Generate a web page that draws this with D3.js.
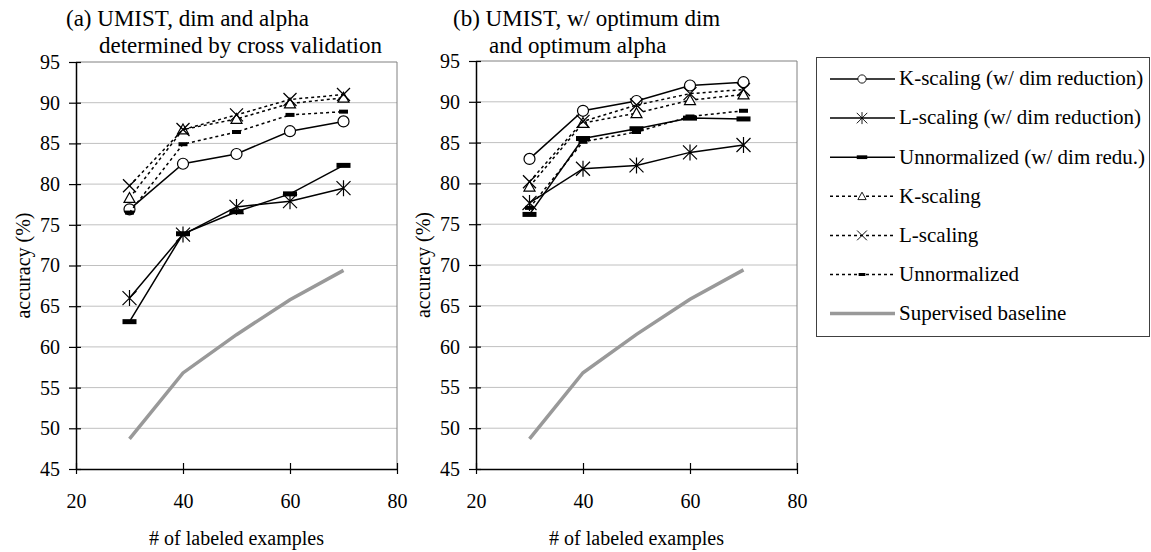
<!DOCTYPE html>
<html>
<head>
<meta charset="utf-8">
<script src="https://cdn.jsdelivr.net/npm/d3@7"></script>
<style>
  body { margin: 0; background: #fff; }
  svg text { font-family: "Liberation Serif", "Times New Roman", serif; fill: #000; }
</style>
</head>
<body>
<div id="chart"></div>
<script>
// ---------------- data ----------------
const xValues = [30, 40, 50, 60, 70];
const xTicks = [20, 40, 60, 80];
const yTicks = [45, 50, 55, 60, 65, 70, 75, 80, 85, 90, 95];

const seriesNames = [
  "K-scaling (w/ dim reduction)",
  "L-scaling (w/ dim reduction)",
  "Unnormalized (w/ dim redu.)",
  "K-scaling",
  "L-scaling",
  "Unnormalized",
  "Supervised baseline"
];

// (a) cross validation
const kDimA = [76.9, 82.5, 83.7, 86.5, 87.7];
const lDimA = [66.0, 73.8, 77.2, 77.9, 79.5];
const uDimA = [63.1, 73.9, 76.6, 78.8, 82.3];
const kScaleA = [78.3, 86.7, 88.0, 89.9, 90.6];
const lScaleA = [79.8, 86.7, 88.5, 90.4, 91.0];
const unnormA = [76.5, 84.9, 86.4, 88.5, 88.9];
const baseA = [48.7, 56.8, 61.5, 65.8, 69.4];

// (b) optimum dim / alpha
const kDimB = [83.0, 88.9, 90.1, 92.0, 92.4];
const lDimB = [77.6, 81.8, 82.2, 83.8, 84.7];
const uDimB = [76.2, 85.5, 86.7, 88.0, 87.9];
const kScaleB = [79.6, 87.4, 88.6, 90.2, 90.9];
const lScaleB = [80.2, 87.6, 89.6, 91.0, 91.5];
const unnormB = [77.0, 85.1, 86.3, 88.2, 88.9];
const baseB = [48.7, 56.8, 61.5, 65.8, 69.4];

const titleA = ["(a) UMIST, dim and alpha", "determined by cross validation"];
const titleB = ["(b) UMIST, w/ optimum dim", "and optimum alpha"];
const xLabel = "# of labeled examples";
const yLabel = "accuracy (%)";

// ---------------- styles ----------------
const styles = [
  { dash: null, marker: "circle" },
  { dash: null, marker: "asterisk" },
  { dash: null, marker: "bar" },
  { dash: "3,3", marker: "triangle" },
  { dash: "3,3", marker: "x" },
  { dash: "3,3", marker: "smallbar" },
  { dash: null, marker: null, gray: true }
];

const w = 1151;
const h = 552;

const svg = d3.select("#chart")
  .append("svg")
  .attr("width", w)
  .attr("height", h);

function drawMarker(g, type, cx, cy) {
  if (type === "circle") {
    g.append("circle").attr("cx", cx).attr("cy", cy).attr("r", 5.5)
      .attr("fill", "#fff").attr("stroke", "#000").attr("stroke-width", 1.2);
  } else if (type === "asterisk") {
    const s = 7;
    g.append("path")
      .attr("d", `M${cx-s},${cy-s}L${cx+s},${cy+s}M${cx-s},${cy+s}L${cx+s},${cy-s}M${cx},${cy-s-1}L${cx},${cy+s+1}`)
      .attr("stroke", "#000").attr("stroke-width", 1.2).attr("fill", "none");
  } else if (type === "x") {
    const s = 6.5;
    g.append("path")
      .attr("d", `M${cx-s},${cy-s}L${cx+s},${cy+s}M${cx-s},${cy+s}L${cx+s},${cy-s}`)
      .attr("stroke", "#000").attr("stroke-width", 1.3).attr("fill", "none");
  } else if (type === "triangle") {
    const s = 5.5;
    g.append("path")
      .attr("d", `M${cx},${cy-s}L${cx+s},${cy+s*0.8}L${cx-s},${cy+s*0.8}Z`)
      .attr("fill", "#fff").attr("stroke", "#000").attr("stroke-width", 1.2);
  } else if (type === "bar") {
    g.append("rect").attr("x", cx - 7).attr("y", cy - 2.5).attr("width", 14).attr("height", 5)
      .attr("fill", "#000");
  } else if (type === "smallbar") {
    g.append("rect").attr("x", cx - 4.5).attr("y", cy - 2).attr("width", 9).attr("height", 4)
      .attr("fill", "#000");
  }
}

function drawPanel(left, top, seriesList, title, titleX, indent) {
  const right = left + 321;
  const bottom = 469;

  const xScale = d3.scaleLinear().domain([20, 80]).range([left, right]);
  const yScale = d3.scaleLinear().domain([45, 95]).range([bottom, top]);

  const g = svg.append("g");

  // gridlines
  g.selectAll(".grid")
    .data(yTicks.filter(d => d > 45 && d < 95))
    .enter()
    .append("line")
    .attr("x1", left).attr("x2", right)
    .attr("y1", d => yScale(d)).attr("y2", d => yScale(d))
    .attr("stroke", "#c0c0c0").attr("stroke-width", 1);

  // plot border top / right
  g.append("path")
    .attr("d", `M${left},${top}H${right}V${bottom}`)
    .attr("fill", "none").attr("stroke", "#808080").attr("stroke-width", 1);

  const yAxis = d3.axisLeft(yScale).tickValues(yTicks).tickSize(7).tickSizeOuter(0).tickPadding(9);
  const xAxis = d3.axisBottom(xScale).tickValues(xTicks).tickSize(5).tickSizeOuter(0);

  const ya = g.append("g").attr("transform", `translate(${left},0)`).call(yAxis);
  ya.selectAll(".tick line").attr("x1", 5).attr("stroke-width", 1.2);
  ya.select(".domain").attr("stroke-width", 1.5);
  ya.selectAll("text").attr("font-size", 20);

  const xa = g.append("g").attr("transform", `translate(0,${bottom})`).call(xAxis);
  xa.selectAll(".tick line").attr("y1", -6).attr("stroke-width", 1.2);
  xa.select(".domain").attr("stroke-width", 1.5);
  xa.selectAll("text").attr("font-size", 20)
    .attr("y", 32).attr("dy", "0.35em");

  // series, baseline first so it sits underneath
  const line = d3.line().x((d, i) => xScale(xValues[i])).y(d => yScale(d));
  const order = [6, 0, 1, 2, 3, 4, 5];
  order.forEach(si => {
    const st = styles[si];
    const vals = seriesList[si];
    g.append("path")
      .attr("d", line(vals))
      .attr("fill", "none")
      .attr("stroke", st.gray ? "#999" : "#000")
      .attr("stroke-width", st.gray ? 3.5 : 1.5)
      .attr("stroke-dasharray", st.dash);
    if (st.marker) {
      vals.forEach((v, i) => drawMarker(g, st.marker, xScale(xValues[i]), yScale(v)));
    }
  });

  // titles
  g.append("text").attr("x", titleX).attr("y", 18).attr("dy", "0.35em")
    .attr("font-size", 23).text(title[0]);
  g.append("text").attr("x", titleX + indent).attr("y", 45).attr("dy", "0.35em")
    .attr("font-size", 23).text(title[1]);

  g.append("text")
    .attr("x", (left + right) / 2).attr("y", 538).attr("dy", "0.35em")
    .attr("text-anchor", "middle").attr("font-size", 20)
    .text(xLabel);

  g.append("text")
    .attr("transform", `translate(${left - 53},${(top + bottom) / 2}) rotate(-90)`)
    .attr("dy", "0.35em")
    .attr("text-anchor", "middle").attr("font-size", 20)
    .text(yLabel);
}

drawPanel(76, 62, [kDimA, lDimA, uDimA, kScaleA, lScaleA, unnormA, baseA], titleA, 66, 33);
drawPanel(476, 61, [kDimB, lDimB, uDimB, kScaleB, lScaleB, unnormB, baseB], titleB, 453, 36);

// ---------------legend------------------------
const legend = svg.append("g").attr("id", "legend");
legend.append("rect")
  .attr("x", 816.5).attr("y", 57.5).attr("width", 333).attr("height", 279)
  .attr("fill", "#fff").attr("stroke", "#404040").attr("stroke-width", 1);

seriesNames.forEach((name, i) => {
  const st = styles[i];
  const y = 79 + i * 39.1;
  legend.append("line")
    .attr("x1", 830).attr("x2", 895).attr("y1", y).attr("y2", y)
    .attr("stroke", st.gray ? "#999" : "#000")
    .attr("stroke-width", st.gray ? 3.5 : 1.5)
    .attr("stroke-dasharray", st.dash);
  if (st.marker) {
    const m = legend.append("g");
    drawMarker(m, st.marker, 862, y);
    m.attr("transform", `translate(862,${y}) scale(0.75) translate(${-862},${-y})`);
  }
  legend.append("text")
    .attr("x", 899).attr("y", y).attr("dy", "0.3em")
    .attr("font-size", 21)
    .text(name);
});
</script>
</body>
</html>
